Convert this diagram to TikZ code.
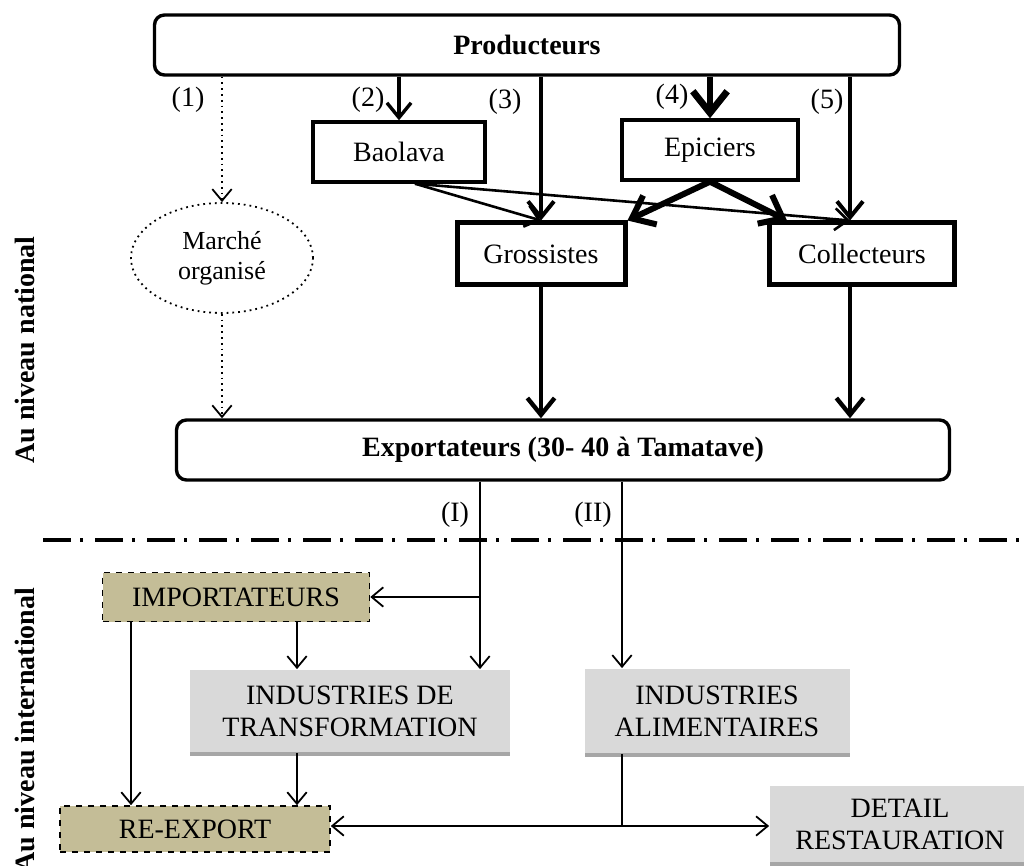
\documentclass[tikz,border=0pt]{standalone}
\usepackage{fontspec}
\setmainfont{Liberation Serif}
\usetikzlibrary{arrows.meta,shapes.geometric,shadows}

\definecolor{tanfill}{HTML}{C4BD97}
\definecolor{boxgray}{HTML}{D9D9D9}
\definecolor{shadegray}{HTML}{A6A6A6}

\tikzset{
  roundbox/.style={rectangle, rounded corners=5pt, draw, line width=1.7pt, minimum height=30pt, font=\fontsize{14}{16}\selectfont\bfseries},
  actor/.style={rectangle, draw, line width=1.7pt, minimum height=30pt},
  bigactor/.style={rectangle, draw, line width=2.5pt, minimum height=31pt},
  tanbox/.style={rectangle, draw, dashed, line width=0.8pt, fill=tanfill},
  graybox/.style={rectangle, fill=boxgray, align=center, drop shadow={shadow xshift=0pt, shadow yshift=-2pt, fill=shadegray, opacity=1}},
  barb/.style={-{Straight Barb[length=4pt 2, width=7pt 3]}},
  sidelabel/.style={rotate=90, font=\fontsize{14}{16}\selectfont\bfseries},
}

\begin{document}
\begin{tikzpicture}[x=0.5pt, y=-0.5pt, font=\fontsize{14}{16}\selectfont, line width=0.9pt]
\useasboundingbox (0,0) rectangle (1024,866);

% au niveau national
\node (prod) [roundbox, minimum width=372.5pt] at (527,45) {Producteurs};
\node (baolava) [actor, minimum width=86pt] at (399,152) {Baolava};
\node (epic) [actor, minimum width=88pt] at (710,150) {Epiciers};
\node (gross) [bigactor, minimum width=84pt] at (541,254) {Grossistes};
\node (collect) [bigactor, minimum width=92.5pt] at (862,254) {Collecteurs};
\node (marche) [ellipse, draw, dotted, line width=0.9pt, minimum width=91pt, minimum height=55pt, align=center, font=\fontsize{13}{15}\selectfont] at (222,258) {Marché\\organisé};
\node (export) [roundbox, minimum width=386.5pt] at (563,450) {Exportateurs (30- 40 à Tamatave)};

\node (n1) at (188,100) {(1)};
\node (n2) at (368,100) {(2)};
\node (n3) at (505,102) {(3)};
\node (n4) at (672,97) {(4)};
\node (n5) at (827,102) {(5)};

\coordinate (c5) at ([xshift=-6pt]collect.north);
\coordinate (b1) at ([xshift=8pt]baolava.south);

\draw[barb, dotted, line width=0.9pt] (prod.south -| marche.north) -- (marche.north);
\draw[barb, line width=1.7pt] (prod.south -| baolava.north) -- (baolava.north);
\draw[barb, line width=2pt] (prod.south -| gross.north) -- (gross.north);
\draw[barb, line width=3.4pt] (prod.south -| epic.north) -- (epic.north);
\draw[barb, line width=2pt] (prod.south -| c5) -- (c5);
\draw[barb, line width=1.3pt] (b1) -- (gross.north);
\draw[barb, line width=1.3pt] (b1) -- (c5);
\draw[barb, line width=3pt] (epic.south) -- (gross.north east);
\draw[barb, line width=3pt] (epic.south) -- ([xshift=10pt]collect.north west);
\draw[barb, line width=2.2pt] (gross.south) -- (gross.south |- export.north);
\draw[barb, line width=2.2pt] (collect.south -| c5) -- (export.north -| c5);
\draw[barb, dotted, line width=0.9pt] (marche.south) -- (marche.south |- export.north);

% separation
\draw[line width=2pt, dash pattern=on 14pt off 4.5pt on 1.5pt off 6pt] (43,540) -- (1024,540);

% au niveau international
\node (import) [tanbox, minimum width=133.5pt, minimum height=24.5pt] at (236,597) {IMPORTATEURS};
\node (indtrans) [graybox, minimum width=160pt, minimum height=41pt] at (350,711) {INDUSTRIES DE\\TRANSFORMATION};
\node (indalim) [graybox, minimum width=132.5pt, minimum height=42pt] at (717,711) {INDUSTRIES\\ALIMENTAIRES};
\node (reexport) [tanbox, minimum width=135pt, minimum height=23pt] at (195,829) {RE-EXPORT};
\node (detail) [graybox, minimum width=130pt, minimum height=38pt] at (900,824) {DETAIL\\RESTAURATION};

\node (nI) at (455,515) {(I)};
\node (nII) at (593,515) {(II)};

\coordinate (jI) at (480,597);
\coordinate (jII) at (622,826);
\coordinate (tx) at (297,700);
\coordinate (rx) at (131,700);

\draw (export.south -| jI) -- (jI);
\draw[barb] (jI) -- (import.east);
\draw[barb] (jI) -- (indtrans.north -| jI);
\draw[barb] (export.south -| jII) -- (indalim.north -| jII);
\draw (indalim.south -| jII) -- (jII);
\draw[barb] (jII) -- (reexport.east |- jII);
\draw[barb] (jII) -- (detail.west |- jII);
\draw[barb] (import.south -| tx) -- (indtrans.north -| tx);
\draw[barb] (indtrans.south -| tx) -- (reexport.north -| tx);
\draw[barb] (import.south -| rx) -- (reexport.north -| rx);

\node (natl) [sidelabel] at (25,350) {Au niveau national};
\node (intl) [sidelabel] at (25,730) {Au niveau international};
\end{tikzpicture}
\end{document}
